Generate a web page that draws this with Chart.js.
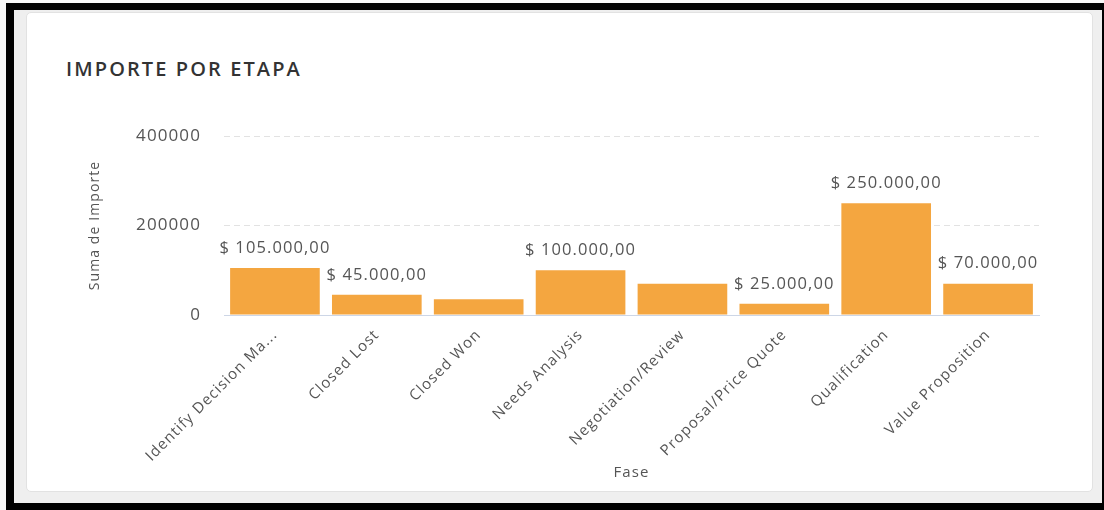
<!DOCTYPE html>
<html>
<head>
<meta charset="utf-8">
<script src="https://cdn.jsdelivr.net/npm/chart.js@4.4.1/dist/chart.umd.min.js"></script>
<style>
  html, body { margin: 0; padding: 0; background: #f7f7f7; }
  #frame { position: absolute; left: 6px; top: 3px; width: 1098px; height: 507px; background: #000; }
  #panel { position: absolute; left: 14px; top: 10px; width: 1088px; height: 493px; background: #efefef; }
  #card { position: absolute; left: 26px; top: 12px; width: 1065px; height: 478px; background: #fff;
          border: 1px solid #e2e2e2; border-radius: 5px; }
  #title { position: absolute; left: 66px; top: 55px; font: 600 20px "Open Sans", sans-serif;
           color: #333; letter-spacing: 2.1px; }
  #chart { position: absolute; left: 0; top: 0; }
</style>
</head>
<body>
<div id="frame"></div>
<div id="panel"></div>
<div id="card"></div>
<div id="title">IMPORTE POR ETAPA</div>
<canvas id="chart" width="1104" height="510"></canvas>
<script>
const FASES = ['Identify Decision Makers', 'Closed Lost', 'Closed Won', 'Needs Analysis',
               'Negotiation/Review', 'Proposal/Price Quote', 'Qualification', 'Value Proposition'];
const IMPORTES = [105000, 45000, 35000, 100000, 70000, 25000, 250000, 70000];
const Y_TICKS = [0, 200000, 400000];

const FONT = '"Open Sans", sans-serif';
const BAR_COLOR = '#f4a640';

// "$ 105.000,00"
function formatImporte(v) {
  const ent = Math.round(v).toString().replace(/\B(?=(\d{3})+(?!\d))/g, '.');
  return '$ ' + ent + ',00';
}

function shortLabel(s) {
  return s.length > 20 ? s.slice(0, 20) + '...' : s;
}

// wider tracking for all canvas text
const tracking = {
  id: 'tracking',
  beforeDraw(chart) { chart.ctx.letterSpacing = '1.1px'; }
};

// value labels above the bars, skipping any that would collide with one already drawn
const barLabels = {
  id: 'barLabels',
  afterDatasetsDraw(chart) {
    const ctx = chart.ctx;
    const meta = chart.getDatasetMeta(0);
    const ds = chart.data.datasets[0];
    const drawn = [];
    ctx.save();
    ctx.font = '16.5px ' + FONT;
    ctx.letterSpacing = '1.1px';
    ctx.fillStyle = '#555';
    ctx.textAlign = 'center';
    ctx.textBaseline = 'middle';
    meta.data.forEach((bar, i) => {
      const txt = formatImporte(ds.data[i]);
      const w = ctx.measureText(txt).width;
      const box = { x1: bar.x - w / 2 - 3, x2: bar.x + w / 2 + 3, y1: bar.y - 29, y2: bar.y - 11 };
      const hit = drawn.some(b => box.x1 < b.x2 && box.x2 > b.x1 && box.y1 < b.y2 && box.y2 > b.y1);
      if (hit) return;
      drawn.push(box);
      ctx.fillText(txt, bar.x, bar.y - 20);
    });
    ctx.restore();
  }
};

new Chart(document.getElementById('chart'), {
  type: 'bar',
  data: {
    labels: FASES,
    datasets: [{
      label: 'Suma de Importe',
      data: IMPORTES,
      backgroundColor: BAR_COLOR,
      barPercentage: 0.88,
      categoryPercentage: 1
    }]
  },
  options: {
    responsive: false,
    animation: false,
    layout: { padding: { left: 83, top: 136, right: 65, bottom: 24 } },
    plugins: {
      legend: { display: false },
      tooltip: { enabled: false }
    },
    scales: {
      x: {
        afterFit(scale) { scale.height = 171; },
        grid: { display: false },
        border: { display: true, color: '#cdd6e6' },
        ticks: {
          color: '#555',
          font: { family: FONT, size: 15 },
          minRotation: 45,
          maxRotation: 45,
          autoSkip: false,
          callback(v) { return shortLabel(this.getLabelForValue(v)); }
        },
        title: { display: true, text: 'Fase', color: '#555', font: { family: FONT, size: 15 } }
      },
      y: {
        min: 0,
        max: 400000,
        afterFit(scale) { scale.width = 141; },
        afterBuildTicks(scale) { scale.ticks = Y_TICKS.map(v => ({ value: v })); },
        grid: {
          drawTicks: false,
          color: c => c.tick && c.tick.value === 0 ? 'rgba(0,0,0,0)' : '#e2e2e2'
        },
        border: { display: false, dash: [6, 4] },
        ticks: {
          color: '#555',
          padding: 23,
          font: { family: FONT, size: 17 },
          callback: v => String(v)
        },
        title: { display: true, text: 'Suma de Importe', color: '#555', font: { family: FONT, size: 14 } }
      }
    }
  },
  plugins: [tracking, barLabels]
});
</script>
</body>
</html>
